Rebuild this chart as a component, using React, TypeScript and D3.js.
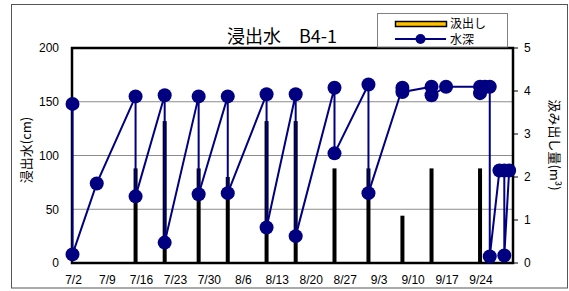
import * as d3 from "d3";

// 水深 (cm) — measured points, in drawing order
const depthDates = [
  "7/2", "7/2", "7/7", "7/15", "7/15", "7/21", "7/21", "7/28", "7/28", "8/3", "8/3",
  "8/11", "8/11", "8/17", "8/17", "8/25", "8/25", "9/1", "9/1", "9/8", "9/8",
  "9/14", "9/14", "9/17", "9/24", "9/24", "9/25", "9/26", "9/26", "9/28", "9/29", "9/29", "9/30",
];
const depthValues = [
  148, 8, 74, 155, 62, 156, 19, 155, 64, 155, 65,
  157, 33, 157, 25, 163, 102, 166, 65, 163, 159,
  164, 156, 164, 164, 158, 164, 164, 6, 86, 86, 7, 86,
];

// 汲出し (m3)
const pumpDates = ["7/15", "7/21", "7/28", "8/3", "8/11", "8/17", "8/25", "9/1", "9/8", "9/14", "9/24"];
const pumpValues = [2.2, 3.3, 2.2, 2.0, 3.3, 3.3, 2.2, 2.2, 1.1, 2.2, 2.2];

const xTickLabels = ["7/2", "7/9", "7/16", "7/23", "7/30", "8/6", "8/13", "8/20", "8/27", "9/3", "9/10", "9/17", "9/24"];
const leftTicks = [0, 50, 100, 150, 200];
const rightTicks = [0, 1, 2, 3, 4, 5];

const parse = (s: string) => d3.timeParse("%Y/%m/%d")("2009/" + s) as Date;

const W = 569;
const H = 291;
const plot = { left: 72, right: 513, top: 48, bottom: 263 };
const navy = "#000080";
const font = "'Liberation Sans', Arial, 'Noto Sans CJK JP', sans-serif";
const jfont = "'Noto Sans CJK JP', sans-serif";

export default function App() {
  const x = d3
    .scaleTime()
    .domain([parse("7/2"), d3.timeHour.offset(parse("9/30"), 19)])
    .range([plot.left + 0.5, plot.right]);
  const yL = d3.scaleLinear().domain([0, 200]).range([plot.bottom, plot.top]);
  const yR = d3.scaleLinear().domain([0, 5]).range([plot.bottom, plot.top]);

  const depth = depthDates.map((d, i) => ({ date: parse(d), v: depthValues[i] }));
  const pump = pumpDates.map((d, i) => ({ date: parse(d), v: pumpValues[i] }));

  const line = d3
    .line<{ date: Date; v: number }>()
    .x((d) => x(d.date))
    .y((d) => yL(d.v));

  return (
    <svg
      width={W}
      height={H}
      style={{ position: "absolute", left: 0, top: 0, background: "#fff" }}
    >
      <rect x={11.5} y={4.5} width={556} height={283.5} fill="#fff" stroke="#555" strokeWidth={1} />

      {/* gridlines */}
      {leftTicks.slice(1, -1).map((t) => (
        <line key={t} x1={plot.left} x2={plot.right} y1={yL(t)} y2={yL(t)} stroke="#8c8c8c" strokeWidth={1} />
      ))}

      {/* bars */}
      {pump.map((d, i) => (
        <rect key={i} x={x(d.date) - 2} y={yR(d.v)} width={4} height={plot.bottom - yR(d.v)} fill="#000" />
      ))}

      {/* plot frame */}
      <rect
        x={plot.left}
        y={plot.top}
        width={plot.right - plot.left}
        height={plot.bottom - plot.top}
        fill="none"
        stroke="#000"
        strokeWidth={2.5}
      />

      {/* right tick marks */}
      {rightTicks.map((t) => (
        <line key={t} x1={plot.right} x2={plot.right + 5} y1={yR(t)} y2={yR(t)} stroke="#000" strokeWidth={1} />
      ))}

      {/* depth line */}
      <path d={line(depth) ?? ""} fill="none" stroke={navy} strokeWidth={2} />
      {depth.map((d, i) => (
        <circle key={i} cx={x(d.date)} cy={yL(d.v)} r={7} fill={navy} />
      ))}

      {/* left axis labels */}
      {leftTicks.map((t) => (
        <text key={t} x={59} y={yL(t)} dy="0.36em" textAnchor="end" fontSize={12} fontFamily={font}>
          {t}
        </text>
      ))}
      {/* right axis labels */}
      {rightTicks.map((t) => (
        <text key={t} x={524} y={yR(t)} dy="0.36em" textAnchor="start" fontSize={12} fontFamily={font}>
          {t}
        </text>
      ))}
      {/* x axis labels */}
      {xTickLabels.map((t) => (
        <text key={t} x={x(parse(t)) + 1} y={284} textAnchor="middle" fontSize={12} fontFamily={font}>
          {t}
        </text>
      ))}

      {/* axis titles */}
      <text
        transform="translate(31,150) rotate(-90)"
        textAnchor="middle"
        fontSize={13}
        fontFamily={jfont}
      >
        浸出水(cm)
      </text>
      <text
        transform="translate(550,145) rotate(90)"
        textAnchor="middle"
        fontSize={13}
        fontFamily={jfont}
      >
        汲み出し量(m³)
      </text>

      {/* title */}
      <text x={282} y={43} textAnchor="middle" fontSize={18} fontFamily={jfont}>
        浸出水　B4-1
      </text>

      {/* legend */}
      <rect x={377.5} y={13.5} width={130} height={33.5} fill="#fff" stroke="#808080" strokeWidth={1} />
      <rect x={395.5} y={21.5} width={51} height={5} fill="#FFC000" stroke="#000" strokeWidth={1.5} />
      <text x={450} y={28} fontSize={12} fontFamily={jfont}>
        汲出し
      </text>
      <line x1={395} x2={446} y1={39} y2={39} stroke={navy} strokeWidth={2} />
      <circle cx={420.5} cy={39} r={5} fill={navy} />
      <text x={450} y={44} fontSize={12} fontFamily={jfont}>
        水深
      </text>
    </svg>
  );
}
